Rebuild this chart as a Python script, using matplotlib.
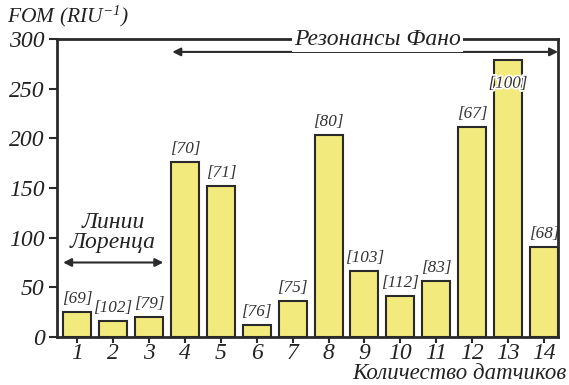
import matplotlib.pyplot as plt
import matplotlib.patheffects as pe

plt.rcParams['font.family'] = 'Liberation Serif'
plt.rcParams['font.style'] = 'italic'
plt.rcParams['mathtext.fontset'] = 'custom'
plt.rcParams['mathtext.rm'] = 'Liberation Serif:italic'
plt.rcParams['mathtext.it'] = 'Liberation Serif:italic'

sensors = list(range(1, 15))
fom = [25, 16.5, 20, 176, 152, 12.5, 36.5, 203, 66, 41.5, 56, 211, 279, 91]
labels = ['[69]', '[102]', '[79]', '[70]', '[71]', '[76]', '[75]', '[80]',
          '[103]', '[112]', '[83]', '[67]', '[100]', '[68]']

dark = '#2a2a2a'
fig = plt.figure(figsize=(5.69, 3.85), dpi=100)
ax = fig.add_axes([0.1002, 0.1247, 0.8805, 0.774])

ax.bar(sensors, fom, width=0.78, color='#f2ea7c', edgecolor=dark, linewidth=1.5)

for x, v, s in zip(sensors, fom, labels):
    if x == 13:
        t = ax.text(x, v - 24, s, ha='center', va='center', fontsize=12.3, color='#333333')
        t.set_path_effects([pe.withStroke(linewidth=2.5, foreground='white')])
    else:
        ax.text(x, v + 5, s, ha='center', va='bottom', fontsize=12.3, color='#333333')

ax.set_xlim(0.44, 14.39)
ax.set_ylim(0, 300)
ax.set_xticks(sensors)
ax.set_yticks([0, 50, 100, 150, 200, 250, 300])
ax.tick_params(axis='both', labelsize=17, color=dark, width=1.5, length=6, labelcolor='#222222')
ax.tick_params(axis='x', pad=0, length=4)
ax.tick_params(axis='y', pad=3)
for sp in ax.spines.values():
    sp.set_linewidth(2)
    sp.set_color(dark)

# Fano arrow and title on the top spine
ax.annotate('', xy=(14.39, 287), xytext=(3.65, 287),
            arrowprops=dict(arrowstyle='<|-|>', color=dark, lw=1.5,
                            mutation_scale=12, shrinkA=0, shrinkB=0))
ax.text(9.36, 300, 'Резонансы Фано', ha='center', va='center', fontsize=17,
        color='#222222', bbox=dict(facecolor='white', edgecolor='none', pad=1.5),
        clip_on=False)

# Lorentz arrow
ax.annotate('', xy=(3.4, 75), xytext=(0.61, 75),
            arrowprops=dict(arrowstyle='<|-|>', color=dark, lw=1.5,
                            mutation_scale=12, shrinkA=0, shrinkB=0))
ax.text(2.0, 85, 'Линии\nЛоренца', ha='center', va='bottom', fontsize=17,
        color='#222222', linespacing=0.9)

fig.text(0.012, 0.958, 'FOM (RIU$^{-1}$)', fontsize=15.5, ha='left', va='center', color='#222222')
fig.text(0.995, 0.003, 'Количество датчиков', fontsize=16.5, ha='right', va='bottom', color='#222222')

fig.savefig('out.png', dpi=100)
